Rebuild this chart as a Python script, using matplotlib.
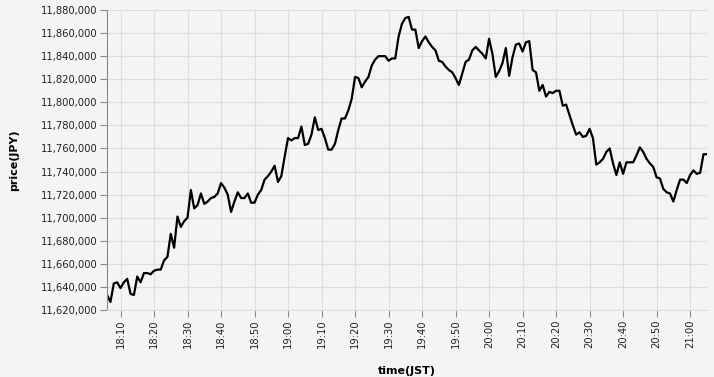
import matplotlib
matplotlib.use("Agg")
import matplotlib.pyplot as plt
import matplotlib.dates as mdates
import matplotlib.ticker as mticker
import pandas as pd

# one price per minute, 18:06 .. 21:05 (JST), in thousands of yen
start_time = "2024-01-01 18:06"
price_k = [
    11633, 11627, 11643, 11644, 11639, 11644, 11647, 11634, 11633, 11649,
    11644, 11652, 11652, 11651, 11654, 11655, 11655, 11663, 11666, 11686,
    11674, 11701, 11692, 11697, 11700, 11724, 11708, 11711, 11721, 11712,
    11714, 11717, 11718, 11721, 11730, 11726, 11720, 11705, 11714, 11722,
    11717, 11717, 11721, 11713, 11713, 11720, 11724, 11733, 11736, 11740,
    11745, 11731, 11736, 11753, 11769, 11767, 11769, 11769, 11779, 11763,
    11764, 11772, 11787, 11776, 11777, 11769, 11759, 11759, 11764, 11776,
    11786, 11786, 11793, 11803, 11822, 11821, 11813, 11818, 11822, 11832,
    11837, 11840, 11840, 11840, 11836, 11838, 11838, 11857, 11868, 11873,
    11874, 11863, 11863, 11847, 11853, 11857, 11852, 11848, 11845, 11836,
    11835, 11831, 11828, 11826, 11821, 11815, 11825, 11835, 11837, 11845,
    11848, 11845, 11842, 11838, 11855, 11842, 11822, 11827, 11834, 11847,
    11823, 11839, 11850, 11851, 11844, 11852, 11853, 11828, 11826, 11810,
    11815, 11805, 11809, 11808, 11810, 11810, 11797, 11798, 11789, 11780,
    11772, 11774, 11770, 11771, 11777, 11769, 11746, 11748, 11751, 11757,
    11760, 11747, 11737, 11748, 11738, 11748, 11748, 11748, 11754, 11761,
    11757, 11751, 11747, 11744, 11735, 11734, 11725, 11722, 11721, 11714,
    11724, 11733, 11733, 11730, 11737, 11741, 11738, 11739, 11755, 11755,
]

times = pd.date_range(start_time, periods=len(price_k), freq="1min")
prices = [p * 1000 for p in price_k]

bg = "#f4f4f4"
plt.rcParams["font.family"] = "DejaVu Sans"

fig = plt.figure(figsize=(7.14, 3.77), dpi=100, facecolor=bg)
ax = fig.add_axes([0.150, 0.1777, 0.840, 0.7958], facecolor=bg)

ax.plot(times, prices, color="black", linewidth=1.6)

ax.set_xlim(times[0], times[-1])
ax.set_ylim(11620000, 11880000)

ax.xaxis.set_major_locator(mdates.MinuteLocator(byminute=range(0, 60, 10)))
ax.xaxis.set_major_formatter(mdates.DateFormatter("%H:%M"))
ax.yaxis.set_major_locator(mticker.MultipleLocator(20000))
ax.yaxis.set_major_formatter(mticker.StrMethodFormatter("{x:,.0f}"))

for lab in ax.get_xticklabels():
    lab.set_rotation(90)

ax.tick_params(axis="both", labelsize=7.2, colors="#888888", labelcolor="#222222",
               length=5, width=0.8, pad=2)
ax.grid(True, color="#dddddd", linewidth=0.8)
ax.set_axisbelow(True)

for side in ["top", "right"]:
    ax.spines[side].set_visible(False)
ax.spines["bottom"].set_color("#dddddd")
ax.spines["left"].set_color("#888888")

ax.set_xlabel("time(JST)", fontsize=8, fontweight="bold")
ax.set_ylabel("price(JPY)", fontsize=8, fontweight="bold")
ax.xaxis.set_label_coords(0.570, 0.029, transform=fig.transFigure)
ax.yaxis.set_label_coords(0.027, 0.5756, transform=fig.transFigure)

fig.savefig("out.png", dpi=100, facecolor=bg)
